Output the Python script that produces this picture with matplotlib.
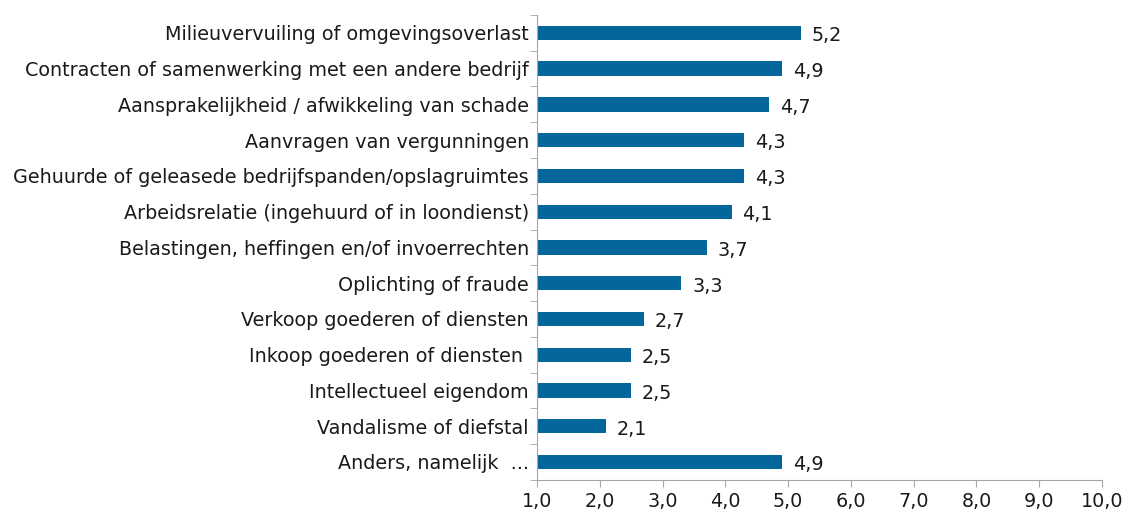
import matplotlib.pyplot as plt
from matplotlib.ticker import FixedLocator

plt.rcParams['font.family'] = ['DejaVu Sans']

categories = [
    'Milieuvervuiling of omgevingsoverlast',
    'Contracten of samenwerking met een andere bedrijf',
    'Aansprakelijkheid / afwikkeling van schade',
    'Aanvragen van vergunningen',
    'Gehuurde of geleasede bedrijfspanden/opslagruimtes',
    'Arbeidsrelatie (ingehuurd of in loondienst)',
    'Belastingen, heffingen en/of invoerrechten',
    'Oplichting of fraude',
    'Verkoop goederen of diensten',
    'Inkoop goederen of diensten ',
    'Intellectueel eigendom',
    'Vandalisme of diefstal',
    'Anders, namelijk  ...',
]
values = [5.2, 4.9, 4.7, 4.3, 4.3, 4.1, 3.7, 3.3, 2.7, 2.5, 2.5, 2.1, 4.9]
xticks = [1, 2, 3, 4, 5, 6, 7, 8, 9, 10]

bar_color = '#05669b'
text_color = '#1a1a1a'
axis_color = '#a6a6a6'
fs = 13.8

fig = plt.figure(figsize=(11.26, 5.16), dpi=100)
ax = fig.add_axes([0.477, 0.070, 0.5017, 0.901])

y = list(range(len(categories)))
widths = [v - 1 for v in values]
ax.barh(y, widths, left=1, height=0.4, color=bar_color)

for yi, v in zip(y, values):
    ax.text(v + 0.17, yi + 0.08, f'{v:.1f}'.replace('.', ','), va='center', ha='left',
            fontsize=fs, color=text_color)

ax.set_xlim(1, 10)
ax.set_ylim(len(categories) - 0.5, -0.5)
ax.set_xticks(xticks)
ax.set_xticklabels([f'{t:.1f}'.replace('.', ',') for t in xticks], fontsize=fs, color=text_color)
ax.set_yticks(y)
ax.set_yticklabels(categories, fontsize=fs, color=text_color)
ax.tick_params(axis='y', length=0, pad=6)
ax.yaxis.set_minor_locator(FixedLocator([i - 0.5 for i in range(len(categories) + 1)]))
ax.tick_params(axis='y', which='minor', length=5, color=axis_color)
ax.tick_params(axis='x', length=5, color=axis_color, pad=4)

for s in ['top', 'right']:
    ax.spines[s].set_visible(False)
for s in ['left', 'bottom']:
    ax.spines[s].set_color(axis_color)

fig.savefig('out.png', dpi=100)
